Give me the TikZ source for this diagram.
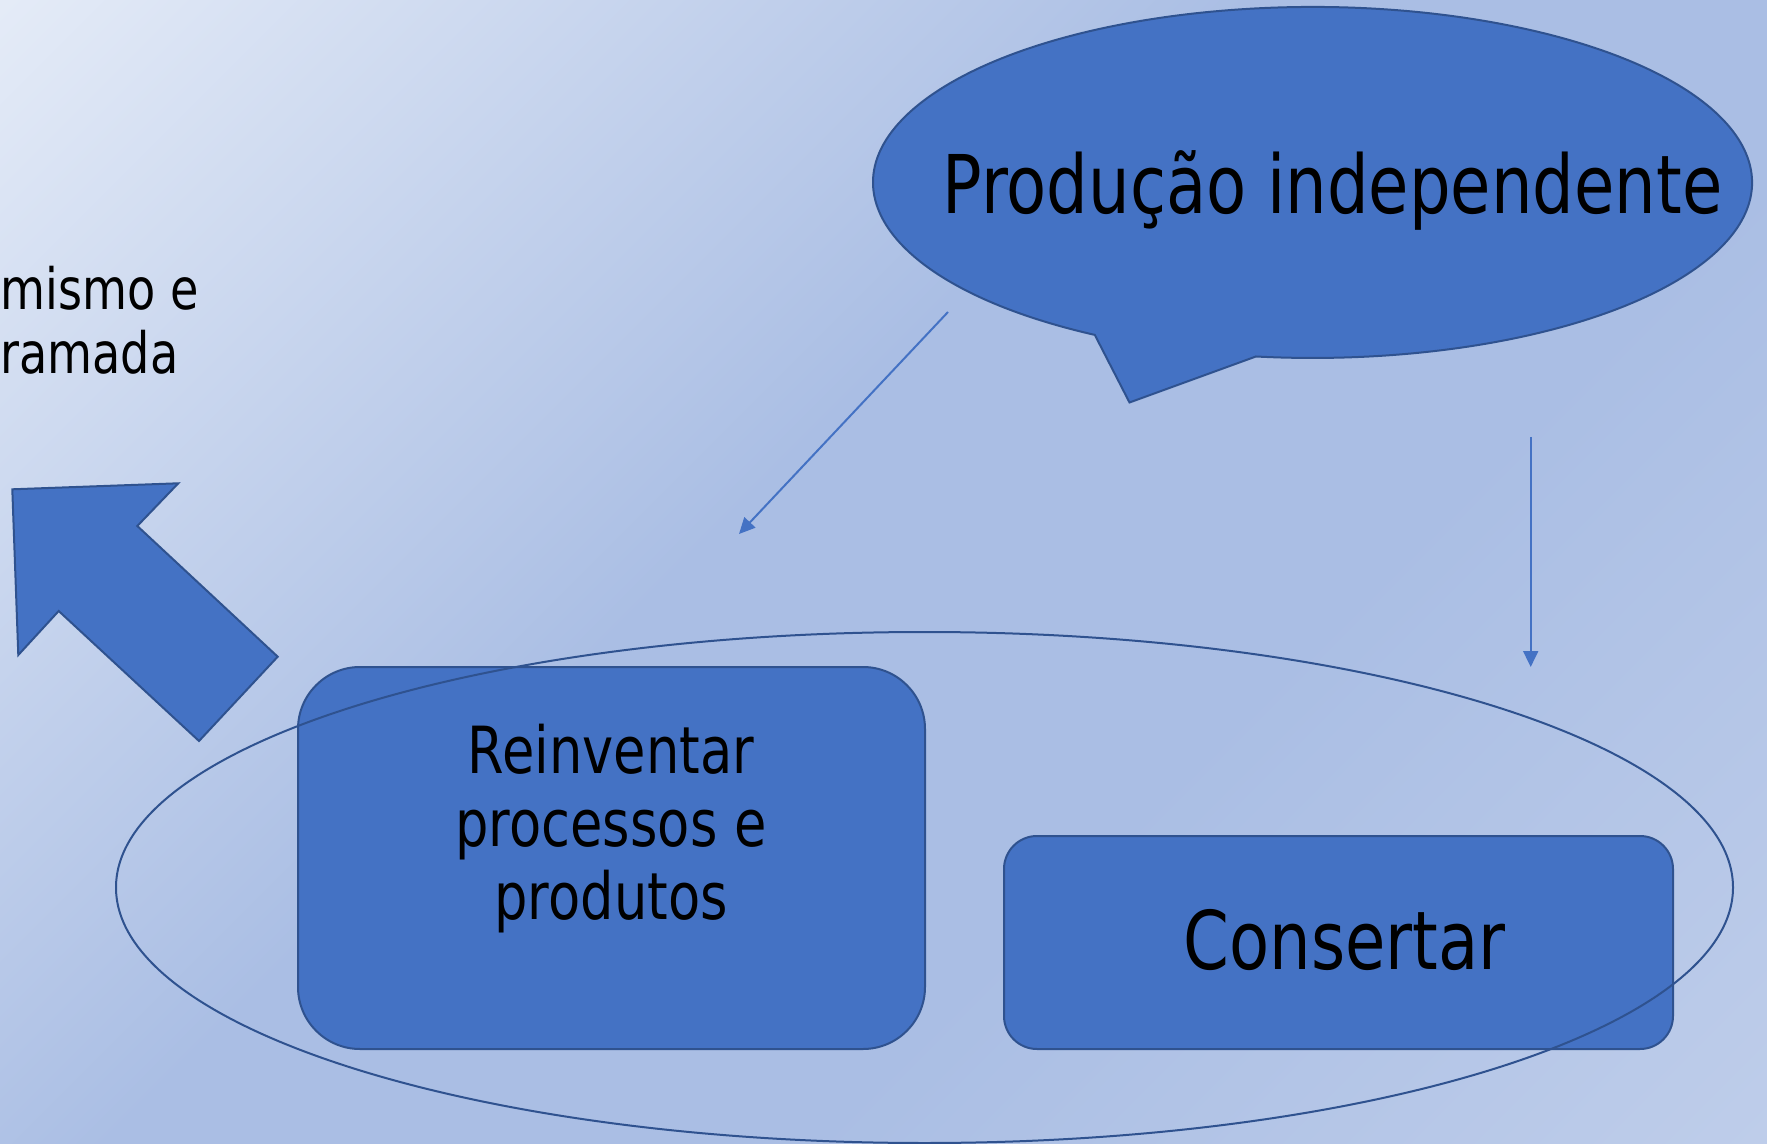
\documentclass[tikz,border=0pt]{standalone}
\usepackage{fontspec}
\newfontfamily\tah[FakeStretch=0.81]{DejaVu Sans}
\usetikzlibrary{shapes.geometric,arrows.meta}
\definecolor{accent}{HTML}{4472C4}
\definecolor{edgec}{HTML}{2F528F}
\definecolor{bgA}{HTML}{E4EBF7}
\definecolor{bgB}{HTML}{AABEE4}
\definecolor{bgC}{HTML}{BECDEA}
\pgfdeclarehorizontalshading{bgshade}{100bp}{color(0bp)=(bgA); color(14.6bp)=(bgA); color(45bp)=(bgB); color(62bp)=(bgB); color(85.4bp)=(bgC); color(100bp)=(bgC)}
\begin{document}
\begin{tikzpicture}[x=0.5pt,y=-0.5pt,
  shapefill/.style={fill=accent,draw=edgec,line width=1pt},
  boxstyle/.style={shapefill,rounded corners=#1,inner sep=0pt},
  txt/.style={text=black,inner sep=0pt},
  conn/.style={draw=accent,line width=1pt,-{Triangle[width=7.5pt,length=8pt]}}]
\useasboundingbox (0,0) rectangle (1767,1144);
\shade[shading=bgshade,shading angle=-45] (0,0) rectangle (1767,1144);
% speech bubble
\path[shapefill] (1094.8,334.9) arc[start angle=119.7,end angle=457.4,x radius=439.5,y radius=175.5] -- (1129.5,402.5) -- cycle;
% block arrow
\path[shapefill] (12.3,489.3) -- (178.3,483.3) -- (137.3,526) -- (277.7,656.7) -- (199,741) -- (58.7,611) -- (18.3,655) -- cycle;
% boxes
\node[boxstyle=31pt, minimum width=313.5pt, minimum height=191pt] (reinv) at (611.5,858) {};
\node[boxstyle=16.5pt, minimum width=334.5pt, minimum height=106.5pt] (cons) at (1338.5,942.5) {};
% group ellipse
\node[ellipse, draw=edgec, line width=1pt, minimum width=808.5pt, minimum height=255.5pt, inner sep=0pt] (group) at (924.5,887.5) {};
% connectors
\coordinate (d1) at (948,312);
\coordinate (d2) at (739,534);
\coordinate (v1) at (1530.7,437);
\coordinate (v2) at (1530.7,667);
\draw[conn] (d1) -- (d2);
\draw[conn] (v1) -- (v2);
% texts
\node[txt, font=\tah\fontsize{40.5}{48}\selectfont, anchor=base] (prod) at (1332.5,214) {Produção independente};
\node[txt, font=\tah\fontsize{40.5}{48}\selectfont, anchor=base] (const) at (1344.5,969) {Consertar};
\node[txt, font=\tah\fontsize{32.5}{36.5}\selectfont, align=center] (reinvt) at (611,829) {Reinventar\\processos e\\produtos};
\node[txt, font=\tah\fontsize{28.5}{31.5}\selectfont, anchor=base west] (left1) at (0,310) {mismo e};
\node[txt, font=\tah\fontsize{28.5}{31.5}\selectfont, anchor=base west] (left2) at (0,374) {ramada};
\end{tikzpicture}
\end{document}
